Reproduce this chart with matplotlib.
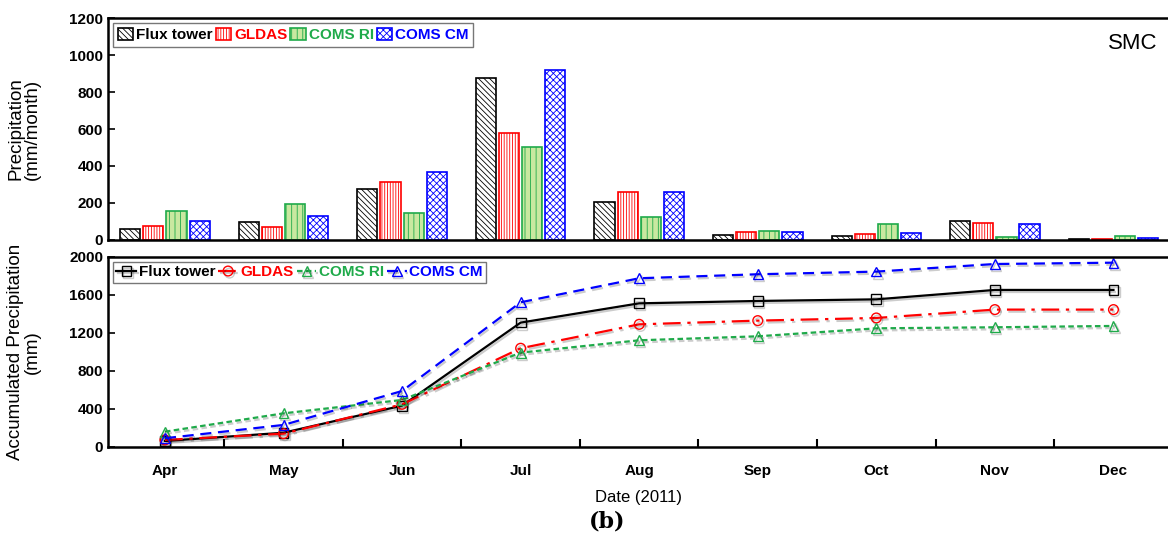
import matplotlib.pyplot as plt
import matplotlib.patheffects as pe
import numpy as np

months = ['Apr', 'May', 'Jun', 'Jul', 'Aug', 'Sep', 'Oct', 'Nov', 'Dec']
names = ['Flux tower', 'GLDAS', 'COMS RI', 'COMS CM']

# monthly precipitation (mm/month)
flux_m = [60, 96, 274, 877, 205, 27, 20, 103, 7]
gldas_m = [77, 70, 312, 577, 261, 41, 32, 90, 4]
ri_m = [158, 195, 148, 501, 124, 47, 85, 14, 20]
cm_m = [103, 130, 366, 919, 261, 41, 40, 85, 12]

# accumulated precipitation (mm)
flux_a = [63, 150, 435, 1309, 1512, 1537, 1554, 1653, 1653]
gldas_a = [74, 140, 449, 1039, 1291, 1330, 1358, 1446, 1446]
ri_a = [161, 354, 495, 993, 1123, 1165, 1249, 1260, 1274]
cm_a = [92, 232, 589, 1523, 1776, 1818, 1846, 1926, 1940]

cols = ['black', 'red', '#1faa4a', 'blue']
faces = ['white', 'white', '#c9e8a0', 'white']
hatches = ['\\\\\\\\\\\\', '||||||', '|||', 'xxxxx']

plt.rcParams['font.family'] = ['Liberation Sans', 'DejaVu Sans']
plt.rcParams['hatch.linewidth'] = 0.6

fig = plt.figure(figsize=(11.68, 5.41), dpi=100)
ax1 = fig.add_axes([0.0925, 0.5564, 0.9075, 0.4103])
ax2 = fig.add_axes([0.0925, 0.1738, 0.9075, 0.3512])

x = np.arange(len(months))
step = 0.195
w = 0.17
monthly = [flux_m, gldas_m, ri_m, cm_m]
for i in range(4):
    plt.rcParams['hatch.color'] = cols[i]
    ax1.bar(x + (i - 1.5) * step, monthly[i], w, facecolor=faces[i],
            edgecolor=cols[i], hatch=hatches[i], linewidth=1.2, label=names[i])

ax1.set_xlim(-0.48, 8.46)
ax1.set_ylim(0, 1200)
ax1.set_yticks(range(0, 1201, 200))
ax1.set_xticks([])
ax1.set_ylabel('Precipitation\n(mm/month)', fontsize=13.5, linespacing=1.0)
ax1.yaxis.set_label_coords(-0.063, 0.5)
ax1.text(0.99, 0.86, 'SMC', transform=ax1.transAxes, ha='right',
         fontsize=16)
leg1 = ax1.legend(loc='upper left', ncol=4, frameon=True,
                  fancybox=False, edgecolor='#555555', handlelength=1.0,
                  handleheight=0.8, handletextpad=0.2, columnspacing=0.2,
                  borderpad=0.3, borderaxespad=0.35,
                  prop={'weight': 'bold', 'size': 11})
for t, c in zip(leg1.get_texts(), cols):
    t.set_color(c)

accum = [flux_a, gldas_a, ri_a, cm_a]
styles = ['-', (0, (8, 3, 1.5, 3)), (0, (2.5, 1.5)), (0, (5, 3))]
marks = ['s', 'o', '^', '^']
for i in range(4):
    ax2.plot(x, accum[i], color=cols[i], linestyle=styles[i], marker=marks[i],
             markerfacecolor='none', markersize=7, linewidth=1.6,
             label=names[i],
             path_effects=[pe.SimpleLineShadow(offset=(1, -1.5), alpha=0.2),
                           pe.Normal()])

ax2.set_xlim(-0.48, 8.46)
ax2.set_ylim(0, 2000)
ax2.set_yticks(range(0, 2001, 400))
ax2.set_xticks(x)
ax2.set_xticklabels(months)
ax2.set_xticks(x[:-1] + 0.5, minor=True)
ax2.tick_params(axis='x', which='major', length=0, pad=12)
ax2.tick_params(axis='x', which='minor', direction='in', length=6, width=1.5)
ax2.set_ylabel('Accumulated Precipitation\n(mm)', fontsize=13.5,
               linespacing=1.0)
ax2.yaxis.set_label_coords(-0.063, 0.5)
ax2.set_xlabel('Date (2011)', fontsize=12, labelpad=9)
leg2 = ax2.legend(loc='upper left', ncol=4, frameon=True,
                  fancybox=False, edgecolor='#555555', handlelength=1.3,
                  handletextpad=0.15, columnspacing=0.2, borderpad=0.25,
                  borderaxespad=0.3, prop={'weight': 'bold', 'size': 11})
for t, c in zip(leg2.get_texts(), cols):
    t.set_color(c)

for ax in (ax1, ax2):
    ax.spines['right'].set_visible(False)
    for s in ('left', 'top', 'bottom'):
        ax.spines[s].set_linewidth(1.8)
    ax.tick_params(axis='y', direction='in', length=5, width=1.2,
                   labelsize=11)
    for lab in ax.get_yticklabels() + ax.get_xticklabels():
        lab.set_fontweight('bold')
        lab.set_fontsize(11)

fig.text(0.52, 0.025, '(b)', ha='center', fontsize=16, fontweight='bold',
         family='DejaVu Serif')

plt.savefig('out.png', dpi=100)
